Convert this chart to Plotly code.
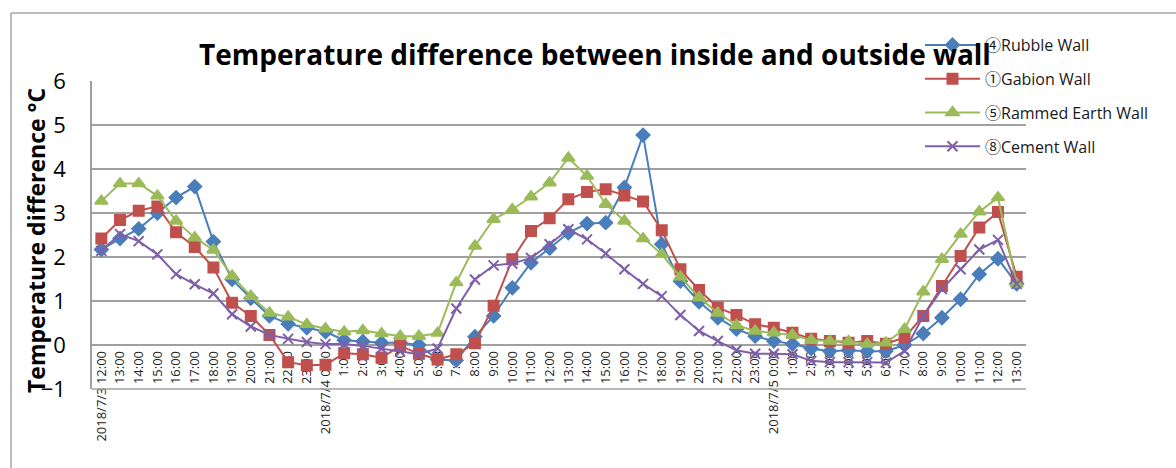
import plotly.graph_objects as go

# Hourly readings, 2018/7/3 12:00 through 2018/7/5 13:00
hours_day1 = [f"{h}:00" for h in range(12, 24)]
hours_day2 = [f"{h}:00" for h in range(0, 24)]
hours_day3 = [f"{h}:00" for h in range(0, 14)]
tick_labels = (["2018/7/3 " + hours_day1[0]] + hours_day1[1:]
               + ["2018/7/4 " + hours_day2[0]] + hours_day2[1:]
               + ["2018/7/5 " + hours_day3[0]] + hours_day3[1:])
positions = list(range(len(tick_labels)))

rubble_wall = [2.17, 2.42, 2.64, 3.00, 3.35, 3.60, 2.35, 1.49, 1.06, 0.66, 0.48, 0.39,
               0.30, 0.11, 0.08, 0.05, 0.05, 0.00, -0.33, -0.35, 0.19, 0.66, 1.30, 1.87,
               2.20, 2.55, 2.76, 2.78, 3.58, 4.77, 2.29, 1.45, 0.98, 0.62, 0.36, 0.20,
               0.09, 0.02, -0.08, -0.14, -0.12, -0.14, -0.14, 0.00, 0.26, 0.62, 1.04, 1.61,
               1.96, 1.39]
gabion_wall = [2.42, 2.84, 3.05, 3.15, 2.56, 2.23, 1.76, 0.96, 0.66, 0.23, -0.39, -0.46,
               -0.45, -0.19, -0.21, -0.29, -0.02, -0.20, -0.33, -0.21, 0.04, 0.89, 1.95, 2.59,
               2.88, 3.31, 3.48, 3.54, 3.40, 3.26, 2.61, 1.72, 1.25, 0.85, 0.68, 0.47,
               0.39, 0.28, 0.14, 0.09, 0.05, 0.09, 0.03, 0.17, 0.66, 1.34, 2.02, 2.67,
               3.02, 1.55]
rammed_earth_wall = [3.27, 3.67, 3.67, 3.39, 2.82, 2.44, 2.16, 1.57, 1.11, 0.73, 0.64, 0.47,
                     0.37, 0.30, 0.33, 0.26, 0.20, 0.20, 0.27, 1.42, 2.25, 2.86, 3.08, 3.37,
                     3.69, 4.25, 3.84, 3.20, 2.82, 2.42, 2.06, 1.55, 1.08, 0.73, 0.45, 0.32,
                     0.28, 0.23, 0.11, 0.09, 0.08, 0.02, 0.05, 0.36, 1.21, 1.95, 2.52, 3.03,
                     3.35, 1.39]
cement_wall = [2.14, 2.52, 2.36, 2.06, 1.61, 1.38, 1.17, 0.70, 0.42, 0.23, 0.14, 0.07,
               0.02, 0.02, -0.02, -0.08, -0.15, -0.21, -0.08, 0.83, 1.49, 1.81, 1.85, 1.98,
               2.29, 2.63, 2.40, 2.08, 1.72, 1.39, 1.11, 0.68, 0.32, 0.09, -0.12, -0.20,
               -0.20, -0.21, -0.36, -0.39, -0.39, -0.39, -0.40, -0.14, 0.66, 1.27, 1.72, 2.17,
               2.39, 1.39]

series = [
    ("④Rubble Wall", rubble_wall, "#4a7ebb", "diamond", 10),
    ("①Gabion Wall", gabion_wall, "#c0504d", "square", 10),
    ("⑤Rammed Earth Wall", rammed_earth_wall, "#9bbb59", "triangle-up", 11),
    ("⑧Cement Wall", cement_wall, "#7f5fa8", "x-thin-open", 10),
]

FONT = "Open Sans, Noto Sans, Noto Sans CJK SC, sans-serif"
GRID = "#a0a0a0"

fig = go.Figure()
for i, (name, values, color, symbol, size) in enumerate(series):
    fig.add_trace(go.Scatter(
        x=positions, y=values, name=name, mode="lines+markers",
        legendgroup=f"g{i}",
        line=dict(color=color, width=2),
        marker=dict(symbol=symbol, size=size, color=color,
                    line=dict(color=color, width=2)),
    ))

# plot area: x 92..1026, y 81..389 (pixels)
L, R, T, B = 92, 1026, 81, 389
W, H = 1176, 468
px = lambda v: (v - L) / (R - L)
py = lambda v: (B - v) / (B - T)

fig.update_layout(
    width=W, height=H,
    margin=dict(l=L, r=W - R, t=T, b=H - B),
    paper_bgcolor="white", plot_bgcolor="white",
    font=dict(family=FONT, color="#000000"),
    title=dict(text="<b>Temperature difference between inside and outside wall</b>",
               x=595 / W, xanchor="center", xref="container",
               y=1 - 55 / H, yanchor="middle", yref="container",
               font=dict(size=28, color="#000000")),
    showlegend=True,
    legend=dict(x=px(920), y=py(28), xanchor="left", yanchor="top",
                bgcolor="rgba(0,0,0,0)", font=dict(size=16, color="#1a1a1a"),
                itemwidth=55, tracegroupgap=10, traceorder="grouped"),
    xaxis=dict(range=[-0.5, len(positions) - 0.5], tickmode="array",
               tickvals=positions, ticktext=tick_labels, tickangle=-90,
               tickfont=dict(size=13, color="#222222"),
               anchor="free", position=1 / 7, showgrid=False,
               showline=True, linecolor=GRID, linewidth=1.5,
               ticks="", layer="below traces", zeroline=False),
    yaxis=dict(range=[-1, 6], dtick=1, tickfont=dict(size=22),
               showgrid=True, gridcolor=GRID, gridwidth=1.5,
               zeroline=False, showline=True, linecolor=GRID, linewidth=1.5,
               ticklabelstandoff=20),
    annotations=[
        dict(text="<b>Temperature difference °C</b>", textangle=-90,
             xref="paper", yref="paper", x=px(36), y=py(241),
             xanchor="center", yanchor="middle", showarrow=False,
             font=dict(size=23, color="#000000")),
    ],
    shapes=[
        dict(type="line", xref="paper", yref="paper",
             x0=px(11), x1=px(1200), y0=py(13), y1=py(13),
             line=dict(color="#a6a6a6", width=1.5)),
        dict(type="line", xref="paper", yref="paper",
             x0=px(11), x1=px(11), y0=py(13), y1=py(480),
             line=dict(color="#a6a6a6", width=1.5)),
        dict(type="line", xref="paper", yref="paper",
             x0=0, x1=1, y0=0, y1=0,
             line=dict(color=GRID, width=1.5)),
    ],
)

fig.write_html("out.html")
